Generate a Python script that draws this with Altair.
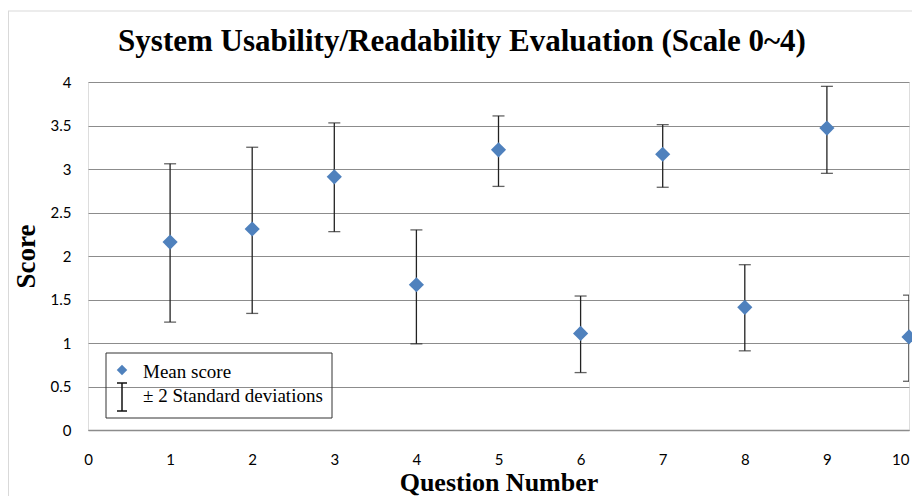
import altair as alt
import pandas as pd

questions = [1, 2, 3, 4, 5, 6, 7, 8, 9, 10]
mean_score = [2.16, 2.31, 2.91, 1.67, 3.22, 1.11, 3.17, 1.41, 3.47, 1.07]
upper = [3.06, 3.25, 3.53, 2.30, 3.61, 1.54, 3.51, 1.90, 3.95, 1.55]
lower = [1.24, 1.34, 2.28, 0.99, 2.80, 0.66, 2.79, 0.91, 2.95, 0.56]

x_ticks = list(range(0, 11))
y_ticks = [0, 0.5, 1, 1.5, 2, 2.5, 3, 3.5, 4]

df = pd.DataFrame({"q": questions, "mean": mean_score, "hi": upper, "lo": lower})
one = pd.DataFrame({"a": [0]})

W, H = 821, 348
SERIF = "Liberation Serif"
SANS = "Lato"

xs = alt.Scale(domain=[0, 10], nice=False, zero=True)
ys = alt.Scale(domain=[0, 4], nice=False)

base = alt.Chart(df)

bars = base.mark_errorbar(
    clip=True,
    color="#222222",
    ticks={"size": 12, "thickness": 1.3, "color": "#222222"},
    rule={"strokeWidth": 1.3, "color": "#222222"},
).encode(
    x=alt.X("q:Q", scale=xs,
            axis=alt.Axis(values=x_ticks, format="d", title="Question Number", grid=False, ticks=False,
                          domain=True, domainColor="#8c8c8c", domainWidth=1.5,
                          labelFont=SANS, labelFontSize=15, labelColor="#000000",
                          labelPadding=22, titleFont=SERIF, titleFontSize=26,
                          titleFontWeight="bold", titleColor="#000000", titlePadding=2,
                          labelFlush=False,
                          labelAlign={"expr": "datum.value == 10 ? 'right' : 'center'"})),
    y=alt.Y("lo:Q", scale=ys,
            axis=alt.Axis(values=y_ticks, format="~g", title="Score", grid=True, gridColor="#8c8c8c",
                          gridWidth=1, ticks=False, domain=False,
                          labelFont=SANS, labelFontSize=15, labelColor="#000000",
                          labelPadding=17, titleFont=SERIF, titleFontSize=27,
                          titleFontWeight="bold", titleColor="#000000", titlePadding=10)),
    y2="hi:Q",
)

points = base.mark_point(shape="diamond", filled=True, size=230, color="#4F81BD",
                         opacity=1, clip=False).encode(
    x=alt.X("q:Q", scale=xs),
    y=alt.Y("mean:Q", scale=ys),
)

lg = alt.Chart(one)
title_text = lg.mark_text(align="center", baseline="middle", font=SERIF, fontSize=31,
                          fontWeight="bold", color="#000000").encode(
    x=alt.value(374), y=alt.value(-40),
    text=alt.value("System Usability/Readability Evaluation (Scale 0~4)")
)
legend_box = lg.mark_rect(fill=None, stroke="#333333", strokeWidth=1).encode(
    x=alt.value(18), x2=alt.value(244), y=alt.value(271), y2=alt.value(336)
)
legend_pt = lg.mark_point(shape="diamond", filled=True, size=110, color="#4F81BD", opacity=1).encode(
    x=alt.value(34), y=alt.value(288)
)
legend_rule = lg.mark_rule(color="#111111", strokeWidth=1.5).encode(
    x=alt.value(34), y=alt.value(301), y2=alt.value(329)
)
legend_cap1 = lg.mark_rule(color="#111111", strokeWidth=1.5).encode(
    x=alt.value(29), x2=alt.value(39), y=alt.value(301)
)
legend_cap2 = lg.mark_rule(color="#111111", strokeWidth=1.5).encode(
    x=alt.value(29), x2=alt.value(39), y=alt.value(329)
)
legend_t1 = lg.mark_text(align="left", baseline="middle", font=SERIF, fontSize=19,
                         color="#000000").encode(
    x=alt.value(55), y=alt.value(290), text=alt.value("Mean score")
)
legend_t2 = lg.mark_text(align="left", baseline="middle", font=SERIF, fontSize=19,
                         color="#000000").encode(
    x=alt.value(55), y=alt.value(314), text=alt.value("± 2 Standard deviations")
)

frame_top = lg.mark_rule(color="#d9d9d9", strokeWidth=1).encode(
    x=alt.value(-80), x2=alt.value(830), y=alt.value(-71)
)
frame_left = lg.mark_rule(color="#d9d9d9", strokeWidth=1).encode(
    x=alt.value(-79.5), y=alt.value(-71), y2=alt.value(420)
)

chart = alt.layer(
    frame_top, frame_left, title_text, bars, points,
    legend_box, legend_pt, legend_rule, legend_cap1, legend_cap2, legend_t1, legend_t2,
).properties(
    width=W, height=H,
    autosize=alt.AutoSizeParams(type="none"),
    padding={"left": 80, "top": 74, "right": 3, "bottom": 66},
).configure_view(
    fill="#D9E3BF", stroke=None
).configure(background="#ffffff")

chart.save("out.html", embed_options={"renderer": "svg", "actions": False})
